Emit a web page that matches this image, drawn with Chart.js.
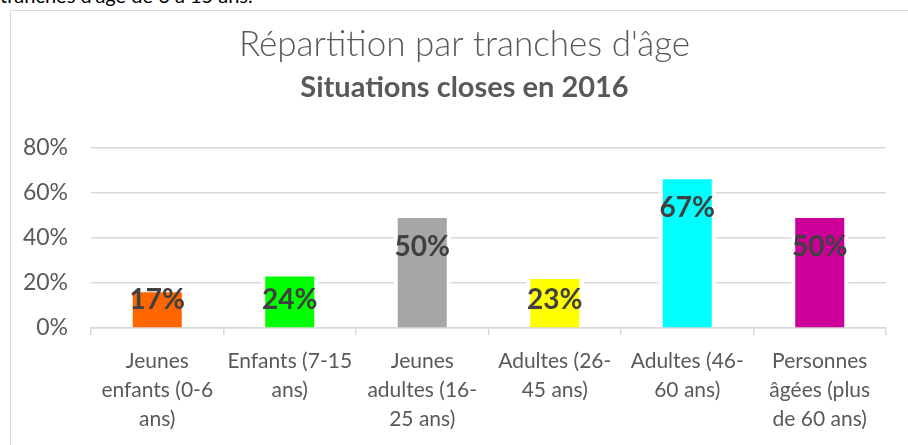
<!DOCTYPE html>
<html>
<head>
<meta charset="utf-8">
<script src="https://cdn.jsdelivr.net/npm/chart.js@4"></script>
<style>
  html, body { margin: 0; padding: 0; background: #ffffff; overflow: hidden; }
  body { width: 908px; height: 445px; position: relative; }
  #bodytext { position: absolute; left: 0; top: -15px; font-family: Lato, "Liberation Sans", sans-serif; font-size: 20px; line-height: 20px; color: #000; white-space: nowrap; }
  #frame { position: absolute; left: 10px; top: 10px; width: 907px; height: 434px; border-left: 1px solid #d9d9d9; border-top: 1px solid #d9d9d9; background: #fff; }
  canvas { display: block; }
</style>
</head>
<body>
<div id="bodytext">tranches d'âge de 6 à 15 ans.</div>
<div id="frame"><canvas id="c" width="907" height="434"></canvas></div>
<script>
const titleText = "Répartition par tranches d'âge";
const subtitleText = "Situations closes en 2016";
const categories = [
  ["Jeunes", "enfants (0-6", "ans)"],
  ["Enfants (7-15", "ans)"],
  ["Jeunes", "adultes (16-", "25 ans)"],
  ["Adultes (26-", "45 ans)"],
  ["Adultes (46-", "60 ans)"],
  ["Personnes", "âgées (plus", "de 60 ans)"]
];
const values = [0.158, 0.228, 0.488, 0.217, 0.660, 0.488];
const valueLabels = ["17%", "24%", "50%", "23%", "67%", "50%"];
const barColors = ["#FF6600", "#00FF00", "#A6A6A6", "#FFFF00", "#00FFFF", "#CC0099"];
const yTicks = [0, 0.2, 0.4, 0.6, 0.8];

const FONT = "Lato, 'Open Sans', sans-serif";

const barHalo = {
  id: 'barHalo',
  beforeDatasetsDraw(chart) {
    const ctx = chart.ctx;
    const meta = chart.getDatasetMeta(0);
    ctx.save();
    ctx.fillStyle = '#ffffff';
    meta.data.forEach(el => {
      const p = el.getProps(['x', 'y', 'base', 'width'], true);
      ctx.fillRect(p.x - p.width / 2 - 4, p.y - 4, p.width + 8, p.base - p.y + 3);
    });
    ctx.restore();
  }
};

const barLabels = {
  id: 'barLabels',
  afterDatasetsDraw(chart) {
    const ctx = chart.ctx;
    const meta = chart.getDatasetMeta(0);
    ctx.save();
    ctx.font = "bold 28px " + FONT;
    ctx.fillStyle = '#404040';
    ctx.textAlign = 'center';
    ctx.textBaseline = 'middle';
    meta.data.forEach((el, i) => {
      const p = el.getProps(['x', 'y', 'base'], true);
      const y = Math.min(p.y + 29, p.base - 27);
      ctx.fillText(valueLabels[i], p.x, y);
    });
    ctx.restore();
  }
};

new Chart(document.getElementById('c'), {
  type: 'bar',
  data: {
    labels: categories,
    datasets: [{
      data: values,
      backgroundColor: barColors,
      borderWidth: 0,
      categoryPercentage: 1,
      barPercentage: 0.37
    }]
  },
  options: {
    responsive: false,
    devicePixelRatio: 1,
    animation: false,
    layout: { padding: 0 },
    plugins: {
      legend: { display: false },
      tooltip: { enabled: false },
      title: {
        display: true,
        text: titleText,
        color: '#595959',
        font: { family: FONT, size: 35, weight: '300', lineHeight: 1.2 },
        padding: { top: 13, bottom: 0 }
      },
      subtitle: {
        display: true,
        text: subtitleText,
        color: '#595959',
        font: { family: FONT, size: 29, weight: 'bold', lineHeight: 1.2 },
        padding: { top: 4.6, bottom: 42.2 }
      }
    },
    scales: {
      y: {
        min: 0,
        max: 0.8,
        afterBuildTicks(scale) { scale.ticks = yTicks.map(v => ({ value: v })); },
        afterFit(scale) { scale.width = 80; },
        ticks: {
          padding: 23,
          color: '#595959',
          font: { family: FONT, size: 23 },
          callback: v => Math.round(v * 100) + '%'
        },
        grid: { color: '#d9d9d9', lineWidth: 1.5, drawTicks: false },
        border: { display: false }
      },
      spacer: {
        position: 'right',
        display: true,
        afterFit(scale) { scale.width = 32; },
        ticks: { display: false },
        grid: { display: false, drawTicks: false },
        border: { display: false }
      },
      x: {
        z: 1,
        afterFit(scale) { scale.height = 117; },
        ticks: {
          padding: 12,
          color: '#595959',
          font: { family: FONT, size: 21, lineHeight: 1.38 },
          maxRotation: 0,
          autoSkip: false
        },
        grid: { offset: true, drawOnChartArea: false, drawTicks: true, tickLength: 7, color: '#d9d9d9', lineWidth: 1.5 },
        border: { display: true, color: '#d9d9d9', width: 1.5 }
      }
    }
  },
  plugins: [barHalo, barLabels]
});
</script>
</body>
</html>
